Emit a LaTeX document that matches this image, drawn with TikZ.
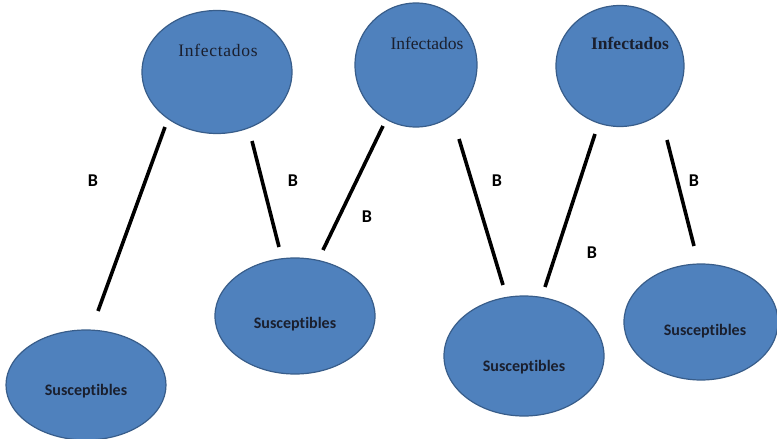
\documentclass[tikz,border=0pt]{standalone}
\usepackage{fontspec}
\setmainfont{Liberation Serif}
\newfontfamily\calib[Ligatures=NoCommon]{Carlito}
\newfontfamily\tms{Liberation Serif}
\newfontfamily\tmswide[LetterSpace=4]{Liberation Serif}
\usetikzlibrary{shapes.geometric}
\definecolor{fillblue}{HTML}{4F81BD}
\definecolor{edgeblue}{HTML}{385D8A}
\definecolor{inkdark}{HTML}{1A1F2E}
\tikzset{
  blob/.style={ellipse, draw=edgeblue, line width=1.2pt, fill=fillblue, inner sep=0pt},
  inftext/.style={font=\tms\fontsize{17.5}{20}\selectfont, text=inkdark},
  sustext/.style={font=\calib\bfseries\fontsize{16}{18}\selectfont, text=inkdark},
  blabel/.style={font=\calib\bfseries\fontsize{18}{20}\selectfont},
  link/.style={line width=3.6pt, black}
}
\begin{document}
\begin{tikzpicture}[x=1pt,y=-1pt]
\useasboundingbox (0,0) rectangle (777,439);
% Infectados
\node[blob, minimum width=150, minimum height=123] (i1) at (217,72) {};
\node[blob, minimum width=122, minimum height=124] (i2) at (416,65) {};
\node[blob, minimum width=128, minimum height=121] (i3) at (620,66) {};
\node[inftext, font=\tmswide\fontsize{17.5}{20}\selectfont] (ti1) at (218,50) {Infectados};
\node[inftext] (ti2) at (427,43) {Infectados};
\node[inftext, font=\tms\bfseries\fontsize{17.5}{20}\selectfont] (ti3) at (630,43) {Infectados};
% Susceptibles
\node[blob, minimum width=160, minimum height=110] (s1) at (86,385) {};
\node[blob, minimum width=160, minimum height=116] (s2) at (295,316) {};
\node[blob, minimum width=160, minimum height=120] (s3) at (524,356) {};
\node[blob, minimum width=154, minimum height=116] (s4) at (701,322) {};
\node[sustext] (ts1) at (86,391) {Susceptibles};
\node[sustext] (ts2) at (295,324) {Susceptibles};
\node[sustext] (ts3) at (524,367) {Susceptibles};
\node[sustext] (ts4) at (705,331) {Susceptibles};
% line endpoints
\coordinate (a1) at (165,127); \coordinate (a2) at (98,311);
\coordinate (b1) at (252,141); \coordinate (b2) at (279,247);
\coordinate (c1) at (383,126); \coordinate (c2) at (323,250);
\coordinate (d1) at (459,139); \coordinate (d2) at (503,285);
\coordinate (e1) at (595,134); \coordinate (e2) at (545,287);
\coordinate (f1) at (667,140); \coordinate (f2) at (694,246);
\draw[link] (a1) -- (a2);
\draw[link] (b1) -- (b2);
\draw[link] (c1) -- (c2);
\draw[link] (d1) -- (d2);
\draw[link] (e1) -- (e2);
\draw[link] (f1) -- (f2);
% labels
\node[blabel] (l1) at (93,181) {B};
\node[blabel] (l2) at (293,181) {B};
\node[blabel] (l3) at (367,217) {B};
\node[blabel] (l4) at (497,181) {B};
\node[blabel] (l5) at (592,253) {B};
\node[blabel] (l6) at (694,181) {B};
\end{tikzpicture}
\end{document}
